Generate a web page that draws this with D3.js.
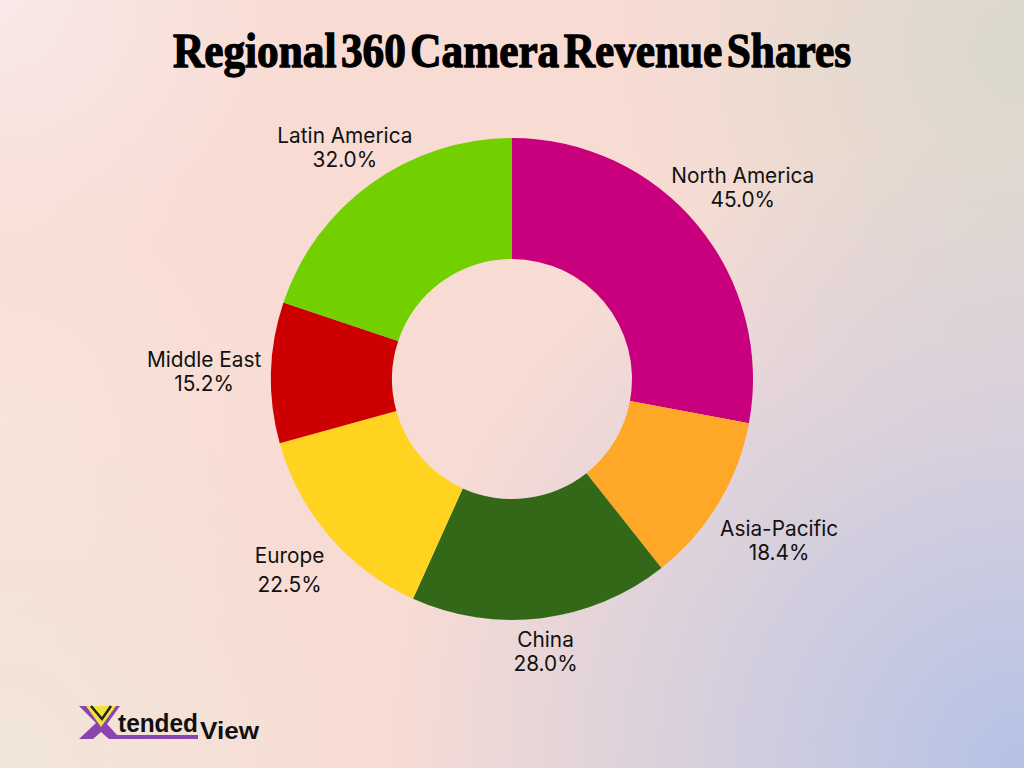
<!DOCTYPE html>
<html>
<head>
<meta charset="utf-8">
<script src="https://cdn.jsdelivr.net/npm/d3@7"></script>
<style>
  html, body { margin: 0; padding: 0; width: 1024px; height: 768px; overflow: hidden; }
  body { background: #f8dcd4; }
  svg { display: block; }
</style>
</head>
<body>
<div id="chart"></div>
<script>
const regions = ["North America", "Asia-Pacific", "China", "Europe", "Middle East", "Latin America"];
const shares = [45.0, 18.4, 28.0, 22.5, 15.2, 32.0];
const sliceColors = ["#c8007d", "#ffa726", "#336818", "#ffd320", "#cc0000", "#72cf00"];

// distance of each label from the ring centre, picked by eye
const labelRadius = [300, 312, 274, 293, 308, 286];

const width = 1024, height = 768;
const cx = 512, cy = 379, outer = 241, inner = 120;

const svg = d3.select("#chart").append("svg")
  .attr("width", width)
  .attr("height", height);

const defs = svg.append("defs");

function glow(id, x, y, r, color, opacity) {
  const g = defs.append("radialGradient")
    .attr("id", id)
    .attr("gradientUnits", "userSpaceOnUse")
    .attr("cx", x).attr("cy", y).attr("r", r);
  g.append("stop").attr("offset", 0).attr("stop-color", color).attr("stop-opacity", opacity);
  g.append("stop").attr("offset", 1).attr("stop-color", color).attr("stop-opacity", 0);
}
glow("bgTL", 0, 0, 300, "#f8e9e8", 1);
glow("bgL", 0, 420, 300, "#f8e6dc", 0.8);
glow("bgTR", 1024, 50, 400, "#dad8cc", 1);
glow("bgBR", 1024, 768, 640, "#b4c2e6", 1);
glow("bgBL", 0, 768, 380, "#f1e6da", 1);

svg.append("rect").attr("width", width).attr("height", height).attr("fill", "#f8dcd4");
["bgTL", "bgL", "bgTR", "bgBL", "bgBR"].forEach(id => {
  svg.append("rect").attr("width", width).attr("height", height).attr("fill", `url(#${id})`);
});

svg.append("text")
  .attr("x", 512)
  .attr("y", 67)
  .attr("text-anchor", "middle")
  .attr("font-family", "'Liberation Serif', serif")
  .attr("font-weight", "bold")
  .attr("font-size", 48)
  .attr("word-spacing", -7)
  .attr("fill", "#000")
  .attr("stroke", "#000")
  .attr("stroke-width", 1.3)
  .attr("textLength", 678)
  .attr("lengthAdjust", "spacingAndGlyphs")
  .text("Regional 360 Camera Revenue Shares");

const pie = d3.pie().sort(null).value(d => d);
const arc = d3.arc().innerRadius(inner).outerRadius(outer);
const arcs = pie(shares);

const ring = svg.append("g").attr("transform", `translate(${cx},${cy})`);

ring.selectAll("path")
  .data(arcs)
  .enter()
  .append("path")
  .attr("d", arc)
  .attr("fill", (d, i) => sliceColors[i]);

const labels = ring.selectAll("text")
  .data(arcs)
  .enter()
  .append("text")
  .attr("text-anchor", "middle")
  .attr("font-family", "Inter, sans-serif")
  .attr("font-size", 20.8)
  .attr("fill", "#111")
  .attr("transform", (d, i) => {
    const mid = (d.startAngle + d.endAngle) / 2;
    const x = Math.sin(mid) * labelRadius[i];
    const y = -Math.cos(mid) * labelRadius[i];
    return `translate(${x},${y})`;
  });

labels.append("tspan")
  .attr("x", 0)
  .attr("y", (d, i) => i === 3 ? -7 : -4)
  .text((d, i) => regions[i]);

labels.append("tspan")
  .attr("x", 0)
  .attr("y", (d, i) => i === 3 ? 22 : 20)
  .text(d => d.value.toFixed(1) + "%");

// logo
const logo = svg.append("g");
logo.append("path")
  .attr("d", "M79 706 H120 L107 724 L117 735 H198 V739 H109 L101 732 L93 739 H79 L96 723 Z")
  .attr("fill", "#8a44b0");
logo.append("path")
  .attr("d", "M86 706 H116 L101 727 Z")
  .attr("fill", "#f2e33c");
logo.append("path")
  .attr("d", "M91 706 L102 719 L111 706")
  .attr("fill", "none")
  .attr("stroke", "#222")
  .attr("stroke-width", 2.5);
logo.append("text")
  .attr("x", 118).attr("y", 732)
  .attr("font-family", "'Liberation Sans', sans-serif")
  .attr("font-weight", "bold")
  .attr("font-size", 26)
  .attr("fill", "#111")
  .attr("textLength", 80)
  .attr("lengthAdjust", "spacingAndGlyphs")
  .text("tended");
logo.append("text")
  .attr("x", 200).attr("y", 739)
  .attr("font-family", "'Liberation Sans', sans-serif")
  .attr("font-weight", "bold")
  .attr("font-size", 23)
  .attr("fill", "#111")
  .attr("textLength", 59)
  .attr("lengthAdjust", "spacingAndGlyphs")
  .text("View");
</script>
</body>
</html>
